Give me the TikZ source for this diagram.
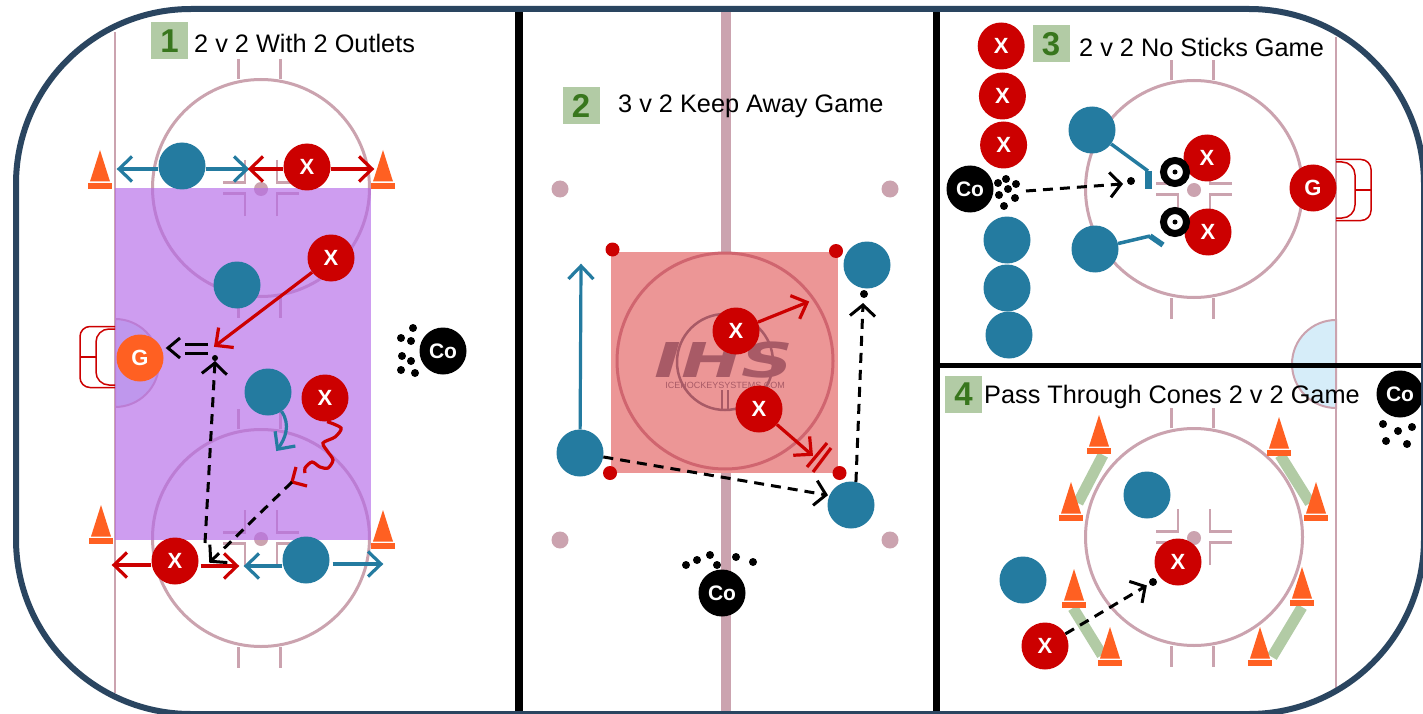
\documentclass[tikz,border=0pt]{standalone}
\usepackage{fontspec}
\setmainfont{Liberation Sans}
\newfontfamily\logofont{DejaVu Sans}
\usetikzlibrary{arrows.meta,positioning}

\definecolor{rinkblue}{HTML}{2A4560}
\definecolor{rinkpink}{HTML}{CBA3AF}
\definecolor{teamblue}{HTML}{247BA0}
\definecolor{teamred}{HTML}{CC0000}
\definecolor{conecol}{HTML}{FF6022}
\definecolor{zonepurple}{HTML}{B469E8}
\definecolor{zonered}{HTML}{EC9696}
\definecolor{ringred}{HTML}{D0656F}
\definecolor{creasecol}{HTML}{D6EDF9}
\definecolor{boxgreen}{HTML}{B2CBA5}
\definecolor{numgreen}{HTML}{38761D}
\definecolor{logocol}{HTML}{A85A66}

\pgfdeclarearrow{
  name = Chevron,
  parameters = {\the\pgfarrowlength,\the\pgfarrowwidth},
  setup code = {
    \pgfarrowssettipend{1pt}
    \pgfarrowssetlineend{-1pt}
    \pgfarrowssetvisualbackend{-\pgfarrowlength}
    \pgfarrowssetbackend{-\pgfarrowlength}
    \pgfarrowshullpoint{1pt}{0pt}
    \pgfarrowsupperhullpoint{-\pgfarrowlength}{.5\pgfarrowwidth}
    \pgfarrowssavethe\pgfarrowlength
    \pgfarrowssavethe\pgfarrowwidth
  },
  drawing code = {
    \pgfsetdash{}{0pt}
    \pgfpathmoveto{\pgfqpoint{-\pgfarrowlength}{.5\pgfarrowwidth}}
    \pgfpathlineto{\pgfqpoint{0pt}{0pt}}
    \pgfpathlineto{\pgfqpoint{-\pgfarrowlength}{-.5\pgfarrowwidth}}
    \pgfusepathqstroke
  },
  defaults = {length=13pt, width=25pt}
}

\tikzset{
  faceoff/.pic={
    \draw[rinkln] (0,0) circle (108.5);
    \fill[rinkpink] (0,1) circle (7);
    \foreach \s in {-1,1} {
      \draw[rinkln] (\s*21-1.5,-109) -- (\s*21-1.5,-129);
      \draw[rinkln] (\s*21-1.5,109) -- (\s*21-1.5,130);
      \draw[thinln] (\s*16,-28) -- (\s*16,-5.5) -- (\s*38,-5.5);
      \draw[thinln] (\s*16,28) -- (\s*16,5.5) -- (\s*38,5.5);
    }
  },
  cone/.pic={
    \fill[conecol] (-10,-7.5) -- (0,-39) -- (10,-7.5) -- cycle;
    \fill[conecol] (-12,-6) rectangle (12,0);
  },
  goalnet/.pic={
    \draw[netln, rounded corners=10pt] (0,-30.5) -- (-35,-30.5) -- (-35,30.5) -- (0,30.5);
    \draw[netln, rounded corners=13pt] (0,-28) -- (-19,-28) -- (-19,28) -- (0,28);
    \draw[netln] (-35,0) -- (-19,0);
  }
}

\begin{document}
\begin{tikzpicture}[x=1pt, y=-1pt,
    rinkln/.style={rinkpink, line width=3pt},
    thinln/.style={rinkpink, line width=2.5pt},
    netln/.style={teamred, line width=1.5pt},
    divider/.style={black, line width=7.5pt},
    player/.style={circle, minimum size=47pt, inner sep=0pt, text=white,
                   font=\fontsize{22}{24}\selectfont\bfseries},
    blueguy/.style={player, fill=teamblue},
    redguy/.style={player, fill=teamred},
    goalie/.style={player, fill=conecol},
    coach/.style={player, fill=black, font=\fontsize{21}{24}\selectfont\bfseries},
    puck/.style={circle, fill=black, minimum size=8pt, inner sep=0pt},
    pin/.style={circle, fill=teamred, minimum size=14pt, inner sep=0pt},
    spot/.style={circle, fill=rinkpink, minimum size=17pt, inner sep=0pt},
    tire/.style={circle, draw=black, fill=white, line width=7pt,
                 minimum size=23pt, inner sep=0pt},
    numbox/.style={fill=boxgreen, minimum size=37pt, inner sep=0pt, text=numgreen,
                   font=\fontsize{33}{36}\selectfont\bfseries},
    gamename/.style={anchor=west, inner sep=0pt, font=\fontsize{25.3}{28}\selectfont},
    bluearr/.style={-{Chevron}, teamblue, line width=3.2pt},
    redarr/.style={-{Chevron}, teamred, line width=3.2pt},
    redln/.style={teamred, line width=3.2pt},
    passarr/.style={-{Chevron[length=11pt,width=25pt]}, black, line width=3pt,
                    dash pattern=on 10pt off 7pt},
    blackln/.style={black, line width=3pt},
    stick/.style={teamblue, line width=3.5pt},
    blade/.style={teamblue, line width=7pt},
    gate/.style={boxgreen, line width=11pt}]

  \useasboundingbox (0,0) rectangle (1423,714);
  \clip (0,0) rectangle (1423,714);
  \fill[white] (0,0) rectangle (1423,714);

  %% Lines under everything
  \draw[line width=2.5pt, rinkpink] (115,32) -- (115,693);
  \draw[line width=2.5pt, rinkpink] (1336,37) -- (1336,688);
  \draw[line width=10pt, rinkpink] (726,12) -- (726,712);
  \draw[rinkpink, line width=2pt, fill=creasecol] (1336,320) arc (-90:-270:44) -- cycle;
  \draw[rinkpink, line width=2pt, fill=creasecol] (115,319) arc (-90:90:44) -- cycle;

  \pic at (261,188) {faceoff};
  \pic at (261,538) {faceoff};
  \pic at (1194,189) {faceoff};
  \pic at (1194,537) {faceoff};

  %% Drill 1
  \fill[zonepurple, opacity=.65] (114.5,188) rectangle (371,540);
  \pic at (115,357) {goalnet};
  \pic at (100,189) {cone};
  \pic at (383,189) {cone};
  \pic at (101,544) {cone};
  \pic at (383,549) {cone};

  \node[numbox] (num1) at (169.5,41) {1};
  \node[gamename] (name1) at (194,43) {2 v 2 With 2 Outlets};

  \node[blueguy] (oneb1) at (182,166) {};
  \node[redguy]  (oner1) at (307,167) {X};
  \node[blueguy] (oneb2) at (237,285) {};
  \node[redguy]  (oner2) at (331,258) {X};
  \node[goalie]  (oneg)  at (140,358) {G};
  \node[blueguy] (oneb3) at (268,392) {};
  \node[redguy]  (oner3) at (325,398) {X};
  \node[redguy]  (oner4) at (175,561) {X};
  \node[blueguy] (oneb4) at (306,560) {};
  \node[coach]   (oneco) at (443,351) {Co};

  \foreach \x/\y [count=\i] in {413/328,401/338,411/341,402/356,411/361,401/370,415/373}
    \node[puck] (onep\i) at (\x,\y) {};
  \node[puck, minimum size=6pt] (onep8) at (215,358) {};

  \coordinate (oneb1l) at (118,169);
  \coordinate (oneb1r) at (248,169);
  \coordinate (oner1l) at (249,169);
  \coordinate (oner1r) at (373,169);
  \coordinate (oner2t) at (215,346);
  \coordinate (oneb3t) at (277,450);
  \coordinate (oner4l) at (113,565);
  \coordinate (oner4r) at (238,566);
  \coordinate (oneb4l) at (245,566);
  \coordinate (oneb4r) at (382,564);
  \coordinate (onepa)  at (205,543);
  \coordinate (onepb)  at (215,362);
  \coordinate (onepc)  at (292,482);
  \coordinate (onepd)  at (210,562);
  \coordinate (oneda)  at (208,348.5);
  \coordinate (onedb)  at (185,348.5);

  \draw[bluearr] (oneb1.west |- oneb1l) -- (oneb1l);
  \draw[bluearr] (oneb1.east |- oneb1r) -- (oneb1r);
  \draw[redarr]  (oner1.west |- oner1l) -- (oner1l);
  \draw[redarr]  (oner1.east |- oner1r) -- (oner1r);
  \draw[redarr]  (oner2) -- (oner2t);
  \draw[redarr]  (oner4.west |- oner4l) -- (oner4l);
  \draw[redarr]  ([xshift=2pt]oner4.east |- oner4r) -- (oner4r);
  \draw[bluearr] (oneb4.west |- oneb4l) -- (oneb4l);
  \draw[bluearr] ([xshift=3pt]oneb4.east |- oneb4r) -- (oneb4r);
  \draw[bluearr] (oneb3.-55) .. controls (291,425) and (285,439) .. (oneb3t);

  %% stickhandle
  \draw[redln] plot[smooth] coordinates {(oner3.-85) (341,428)
    (335,437) (323,443) (328,452) (333,460) (328,468) (320,467) (312,462) (305,468) (305,473)};
  \draw[redln] (296,467) -- (onepc) -- (307,486);

  %% passes
  \draw[passarr] (onepa) -- (onepb);
  \draw[passarr] (onepc) -- (onepd);
  \draw[blackln] ([yshift=-4.5pt]oneda) -- ([yshift=-4.5pt]onedb);
  \draw[blackln] ([yshift=4.5pt]oneda) -- ([yshift=4.5pt]onedb);
  \draw[blackln] (180,338) -- (168,348) -- (180,358);

  %% Drill 2
  \fill[zonered] (611,252) rectangle (838,473);
  \draw[ringred, line width=3pt] (725,361) circle (108);
  \draw[logocol, line width=2.5pt] (725,362) circle (48);
  \draw[logocol, line width=1.5pt] (722,390) -- (722,410);
  \draw[logocol, line width=1.5pt] (728,390) -- (728,410);
  \node[text=logocol, inner sep=0pt, font=\logofont\fontsize{48}{48}\selectfont\bfseries\itshape]
    (logo) at (724,360) {\scalebox{1.5}[1]{IHS}};
  \node[text=logocol, inner sep=0pt, font=\fontsize{9}{10}\selectfont]
    (logoline) at (725,385) {ICEHOCKEYSYSTEMS.COM};

  \node[numbox] (num2) at (581,105.5) {2};
  \node[gamename] (name2) at (618,106.5) {3 v 2 Keep Away Game};

  \foreach \x/\y [count=\i] in {612.5/249.5,836/251,610/473,839.5/473}
    \node[pin] (twopin\i) at (\x,\y) {};
  \foreach \x/\y [count=\i] in {560/189,890/189,560/540,890/540}
    \node[spot] (twospot\i) at (\x,\y) {};

  \node[blueguy] (twob1) at (867,265) {};
  \node[blueguy] (twob2) at (580,453) {};
  \node[blueguy] (twob3) at (851,505) {};
  \node[redguy]  (twor1) at (736,331) {X};
  \node[redguy]  (twor2) at (759,409) {X};
  \node[coach]   (twoco) at (722,593) {Co};
  \foreach \x/\y [count=\i] in {686/565,697/560,710/555,717/565,736/557,753/562}
    \node[puck] (twop\i) at (\x,\y) {};
  \node[puck] (twop7) at (864,294) {};

  \coordinate (twor1t) at (808,302);
  \coordinate (twor2t) at (812,455);
  \coordinate (twob2t) at (581,265);
  \coordinate (twopa)  at (827,495);
  \coordinate (twopb)  at (863,304);

  \draw[redarr]  (twor1) -- (twor1t);
  \draw[redarr]  (twor2) -- (twor2t);
  \draw[bluearr] (twob2) -- (twob2t);
  \draw[passarr] (twob2) -- (twopa);
  \draw[passarr] (twob3.78) -- (twopb);
  \draw[redln] (807,467) -- (827,443);
  \draw[redln] (813,472) -- (831,448);

  %% Drill 3
  \pic[xscale=-1] at (1336,190) {goalnet};
  \node[numbox] (num3) at (1051,44) {3};
  \node[gamename] (name3) at (1079,47) {2 v 2 No Sticks Game};

  \foreach \y [count=\i] in {46,96,145}
    \node[redguy] (threex\i) at (1000+\i*1.2,\y) {X};
  \foreach \x/\y [count=\i] in {1007/240,1007/288,1009/335}
    \node[blueguy] (threeb\i) at (\x,\y) {};
  \node[coach]   (threeco) at (970,189) {Co};
  \foreach \x/\y [count=\i] in {1006/179,998/183,1016/184,1008/189,999/195,1015/198,1004/206}
    \node[puck] (threep\i) at (\x,\y) {};

  \node[redguy]  (threer1) at (1207,158) {X};
  \node[redguy]  (threer2) at (1208,232) {X};
  \node[redguy]  (threeg)  at (1313,188) {G};
  \node[blueguy] (threed1) at (1092,130) {};
  \node[blueguy] (threed2) at (1095,249) {};
  \node[tire] (tire1) at (1175,172) {};
  \node[tire] (tire2) at (1175,222) {};
  \node[puck, minimum size=5pt] (tire1c) at (tire1) {};
  \node[puck, minimum size=5pt] (tire2c) at (tire2) {};
  \node[puck] (threep8) at (1131,181) {};

  \coordinate (stick1) at (1148,171);
  \coordinate (stick1e) at (1148,189);
  \coordinate (stick2) at (1150,236);
  \coordinate (stick2e) at (1163,245);
  \coordinate (threepa) at (1122,184);
  \coordinate (threeps) at (1026,191);
  \draw[stick] (threed1) -- (stick1);
  \draw[blade] (stick1) -- (stick1e);
  \draw[stick] (threed2) -- (stick2);
  \draw[blade, line width=5.5pt] (stick2) -- (stick2e);
  \draw[passarr] (threeps) -- (threepa);

  %% Drill 4
  \draw[gate] (1103,455) -- (1078,503);
  \draw[gate] (1280,455) -- (1310,503);
  \draw[gate] (1073,608) -- (1102,655);
  \draw[gate] (1302,607) -- (1272,657);
  \foreach \x/\y in {1099/454,1071/521,1279/456,1316/521,1074/608,1110/666,1302/606,1260/666}
    \pic at (\x,\y) {cone};

  \node[numbox] (num4) at (963.5,394) {4};
  \node[gamename] (name4) at (984,397) {Pass Through Cones 2 v 2 Game};

  \node[blueguy] (fourb1) at (1147,495) {};
  \node[blueguy] (fourb2) at (1023,580) {};
  \node[redguy]  (fourr1) at (1178,562) {X};
  \node[redguy]  (fourr2) at (1045,646) {X};
  \node[coach]   (fourco) at (1400,394) {Co};
  \foreach \x/\y [count=\i] in {1383/424,1398/431,1412/427,1386/441,1407/444}
    \node[puck] (fourp\i) at (\x,\y) {};
  \node[puck] (fourp6) at (1153,582) {};

  \coordinate (fourpa) at (1146,586);
  \draw[passarr] (fourr2) -- (fourpa);

  %% Dividers and boards
  \draw[divider] (519,9) -- (519,714);
  \draw[divider, line width=7pt] (936.5,9) -- (936.5,714);
  \draw[divider, line width=5pt] (936,365.5) -- (1423,365.5);
  \draw[rinkblue, line width=6pt, rounded corners=175pt] (16,9) rectangle (1424,714);
\end{tikzpicture}
\end{document}
